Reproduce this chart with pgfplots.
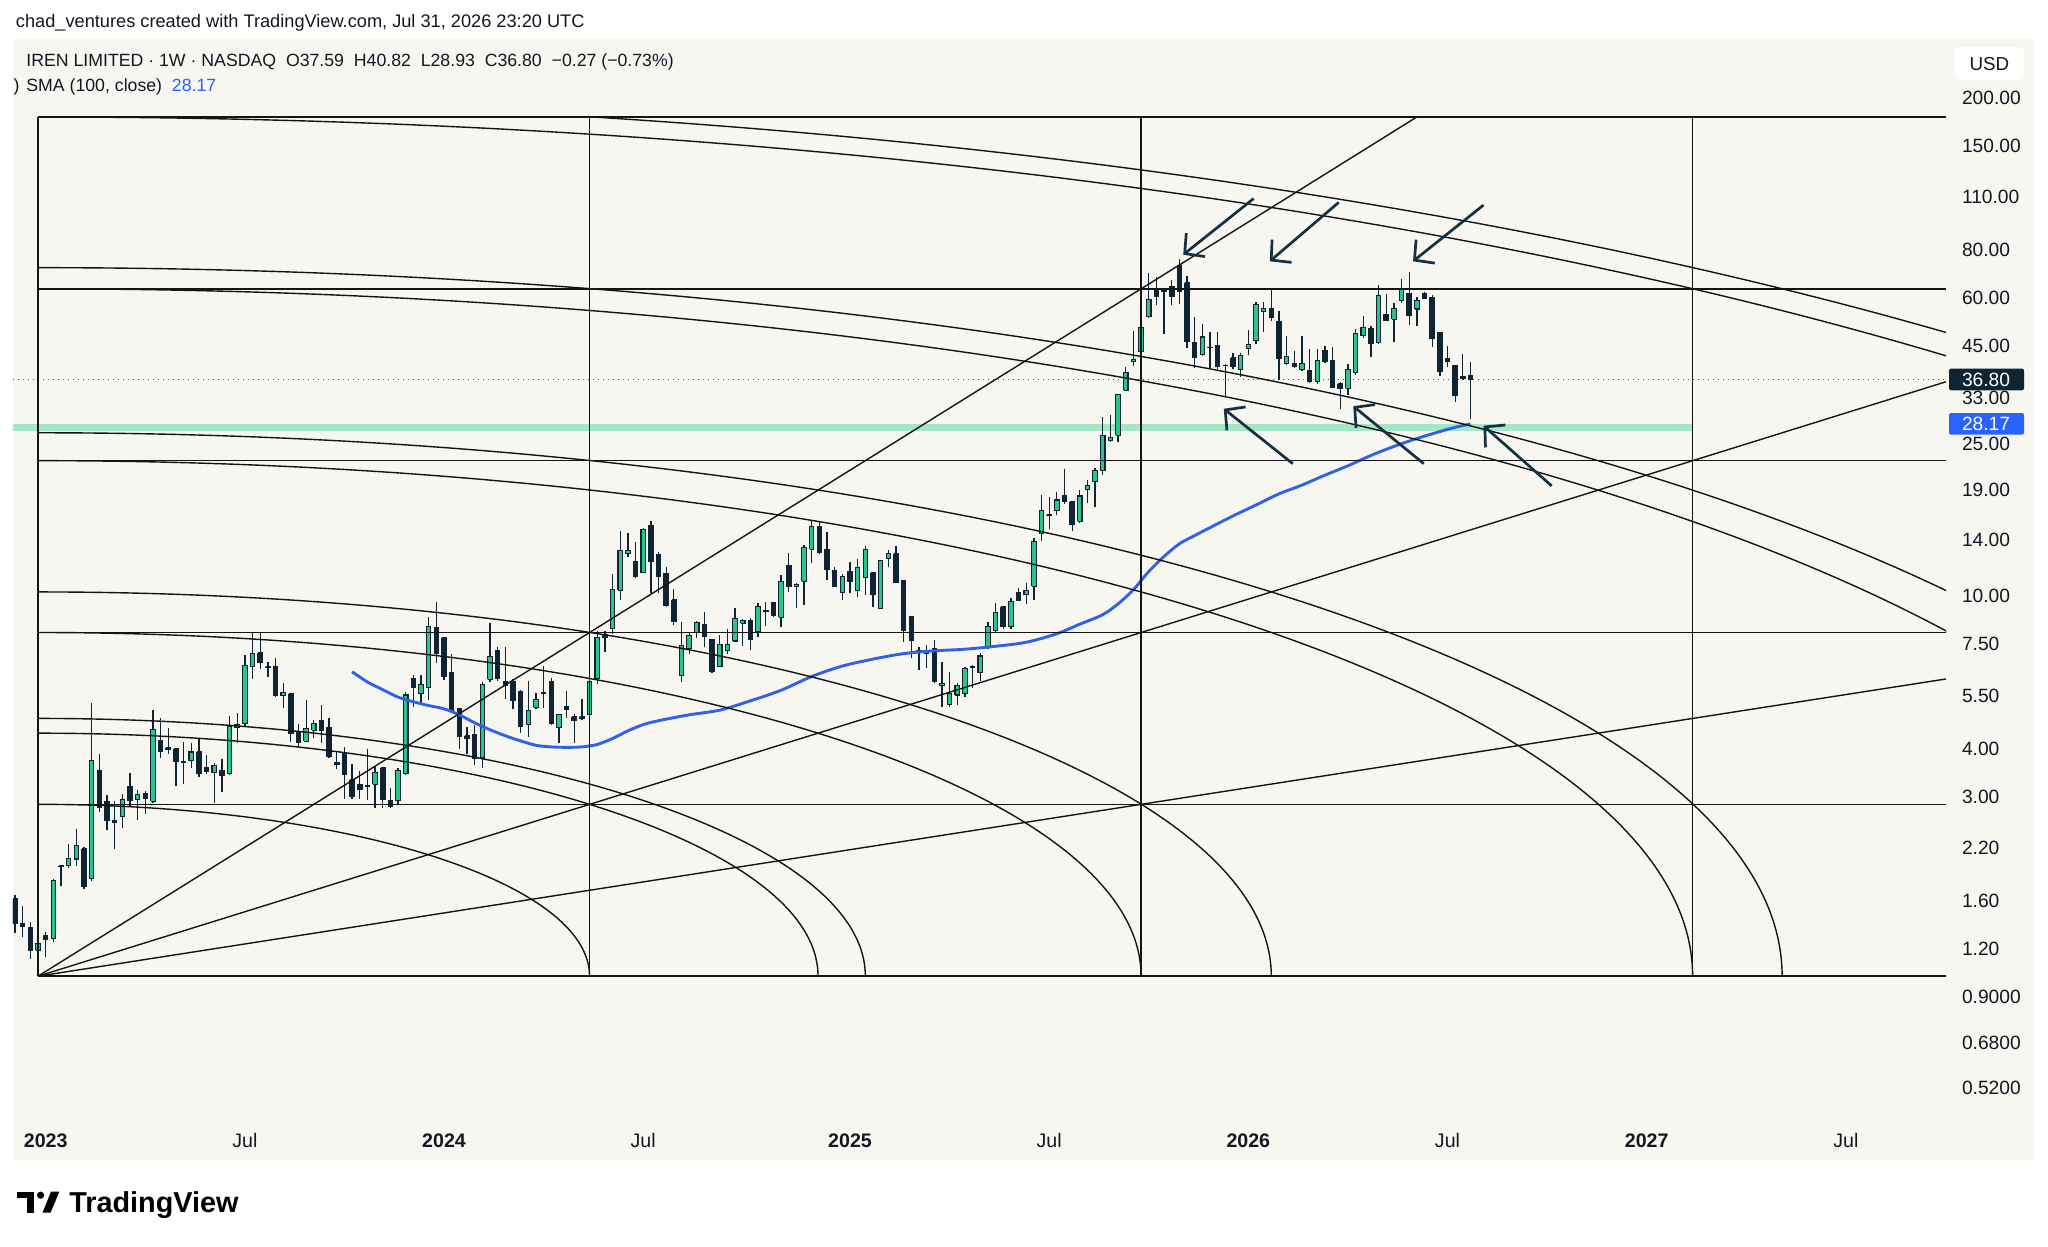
\documentclass[border=0pt]{standalone}
\usepackage{pgfplots}
\pgfplotsset{compat=1.18}
\usepackage{pgfplotstable}
\usepackage{fontspec}
\setmainfont{Liberation Sans}
\usetikzlibrary{arrows.meta}

\definecolor{panel}{HTML}{F8F6F1}
\definecolor{cgreen}{HTML}{2BC48A}
\definecolor{cdark}{HTML}{0E2432}
\definecolor{smablue}{HTML}{2F62E6}
\definecolor{tvblue}{HTML}{2962FF}
\definecolor{bandc}{HTML}{A6E6C8}
\definecolor{arrowc}{HTML}{15303F}
\definecolor{gannc}{HTML}{141414}
\definecolor{txt}{HTML}{131722}

\tikzset{
  wick/.style={draw=cdark, line width=0.65pt},
  cbody/.style={draw=cdark, line width=0.55pt},
  gann/.style={draw=gannc, line width=0.7pt},
  arr/.style={draw=arrowc, line width=1.35pt, -{Straight Barb[length=7pt,width=15pt]}},
}

\pgfplotstableread{
w O H L C
-4 1.62 1.66 1.32 1.40
-3 1.40 1.55 1.29 1.37
-2 1.36 1.41 1.13 1.19
-1 1.19 1.27 1.12 1.24
0 1.30 1.33 1.14 1.27
1 1.28 1.83 1.25 1.81
2 1.98 1.99 1.75 1.97
3 1.98 2.25 1.95 2.07
4 2.06 2.47 1.98 2.23
5 2.19 2.22 1.72 1.75
6 1.83 5.27 1.80 3.73
7 3.51 3.87 2.74 2.81
8 2.91 3.03 2.45 2.60
9 2.60 2.91 2.19 2.56
10 2.66 3.05 2.48 2.95
11 3.19 3.46 2.82 2.92
12 2.94 3.12 2.60 3.04
13 3.05 3.10 2.70 2.96
14 2.91 5.04 2.88 4.49
15 4.19 4.81 3.79 3.94
16 4.02 4.52 3.88 3.98
17 4.00 4.02 3.20 3.71
18 3.70 4.17 3.24 3.68
19 3.72 4.14 3.55 3.92
20 3.92 4.23 3.37 3.45
21 3.56 3.84 3.44 3.48
22 3.46 3.66 2.88 3.62
23 3.51 3.76 3.09 3.40
24 3.45 4.86 3.42 4.58
25 4.53 4.96 4.14 4.62
26 4.65 7.02 4.58 6.59
27 6.55 8.02 6.09 7.09
28 7.11 8.02 6.47 6.71
29 6.55 6.74 6.16 6.50
30 6.56 6.91 5.46 5.50
31 5.49 5.94 5.09 5.59
32 5.57 5.60 4.17 4.38
33 4.44 4.65 4.04 4.15
34 4.18 5.36 4.17 4.51
35 4.46 4.75 4.26 4.65
36 4.72 5.20 4.14 4.46
37 4.55 4.80 3.78 3.81
38 3.68 3.95 3.54 3.63
39 3.88 4.04 2.96 3.43
40 3.32 3.65 2.96 3.00
41 3.23 3.50 2.96 3.13
42 3.18 3.99 2.94 3.20
43 3.23 3.59 2.80 3.46
44 3.57 3.59 2.80 2.95
45 2.93 3.15 2.79 2.83
46 2.92 3.55 2.86 3.50
47 3.44 5.63 3.42 5.52
48 6.10 6.22 5.13 5.78
49 5.57 6.22 5.23 5.87
50 5.76 8.81 5.37 8.32
51 8.29 9.67 6.68 7.09
52 7.80 7.80 6.03 6.16
53 6.31 7.06 4.95 5.04
54 5.09 5.09 4.00 4.30
55 4.32 4.56 3.88 4.25
56 4.34 4.60 3.63 3.78
57 3.78 5.98 3.56 5.88
58 6.06 8.53 5.96 6.97
59 7.23 7.35 6.00 6.09
60 6.00 7.35 5.40 5.86
61 5.99 6.07 5.07 5.33
62 5.62 5.70 4.38 4.56
63 4.62 6.00 4.30 5.02
64 5.13 5.60 5.06 5.36
65 5.60 6.57 5.12 5.58
66 6.00 6.10 4.60 4.65
67 4.54 4.93 4.14 4.91
68 5.15 5.64 4.82 5.05
69 4.85 4.93 4.13 4.73
70 4.85 5.39 4.75 4.80
71 4.90 6.02 4.87 6.00
72 6.09 8.12 5.90 7.81
73 7.94 8.10 7.15 7.80
74 8.23 11.40 7.99 10.43
75 10.37 14.82 9.77 13.19
76 12.90 14.64 12.67 13.19
77 12.33 13.87 11.15 11.26
78 11.50 15.10 11.47 14.94
79 15.33 15.67 10.20 12.30
80 12.85 13.06 10.17 11.28
81 11.47 11.94 9.39 9.43
82 9.77 10.42 8.40 8.57
83 6.22 8.57 5.98 7.45
84 7.29 8.00 7.07 7.91
85 8.03 8.62 7.76 8.54
86 8.45 9.10 7.36 7.84
87 7.72 7.72 6.29 6.36
88 6.55 7.92 6.52 7.47
89 7.23 8.23 7.06 7.47
90 7.64 9.34 7.60 8.75
91 8.49 8.70 7.42 8.62
92 8.66 8.75 7.23 7.70
93 8.07 9.57 7.84 9.41
94 9.12 9.67 8.35 9.16
95 9.61 9.67 8.80 8.93
96 8.80 11.35 8.31 10.90
97 12.05 12.98 10.27 10.60
98 10.60 10.80 9.29 10.70
99 10.95 13.60 9.48 13.40
100 13.25 15.80 12.20 15.24
101 15.24 15.60 12.90 12.97
102 13.25 14.70 11.00 11.75
103 11.70 11.94 10.60 10.62
104 10.20 11.40 9.77 11.23
105 11.60 12.30 10.20 10.90
106 10.33 12.50 9.97 11.86
107 11.20 13.50 10.08 13.25
108 11.50 11.58 9.38 10.13
109 9.29 12.45 9.24 12.37
110 12.55 13.23 11.94 12.93
111 12.90 13.55 10.80 10.84
112 10.98 10.98 7.60 8.15
113 8.87 8.87 6.88 7.68
114 7.23 7.35 6.42 7.21
115 7.20 7.44 6.48 7.07
116 7.32 7.68 5.94 5.98
117 5.84 6.74 5.14 5.90
118 5.20 6.35 5.13 5.57
119 5.52 5.92 5.20 5.83
120 5.57 6.54 5.46 6.48
121 6.50 6.60 5.76 6.55
122 6.31 7.09 6.00 6.98
123 7.38 8.58 7.27 8.32
124 8.15 9.58 8.07 9.05
125 9.38 9.45 8.23 8.32
126 8.32 9.90 8.23 9.67
127 10.20 10.48 9.70 9.75
128 10.08 10.80 9.55 10.36
129 10.62 14.20 9.75 13.87
130 14.58 18.37 13.95 16.71
131 16.30 18.10 15.00 16.25
132 16.71 18.74 16.28 17.83
133 18.26 21.43 17.40 17.65
134 17.65 17.65 14.77 15.38
135 15.69 18.93 15.50 18.26
136 18.99 20.10 17.53 19.50
137 19.90 21.56 17.12 21.26
138 21.26 29.40 20.71 26.34
139 25.46 29.80 25.30 26.00
140 26.34 33.80 25.30 33.64
141 34.52 39.73 34.40 38.32
142 41.00 49.20 39.80 41.60
143 43.50 50.80 42.80 50.30
144 53.70 69.90 53.20 59.50
145 63.20 68.30 57.50 60.60
146 63.00 63.50 48.30 62.60
147 64.50 66.90 57.50 60.60
148 72.80 76.00 58.00 62.60
149 65.90 68.50 44.40 46.20
150 46.00 53.70 39.50 41.90
151 42.80 51.40 42.30 47.50
152 44.70 48.90 39.50 44.60
153 45.00 48.90 39.30 39.70
154 40.00 40.50 33.30 40.10
155 41.90 43.20 39.10 39.90
156 39.10 43.20 37.40 42.40
157 44.40 49.50 42.70 45.50
158 46.40 58.80 45.50 57.60
159 55.30 58.60 48.90 56.50
160 56.30 63.50 52.20 53.50
161 52.20 55.70 36.60 41.80
162 40.50 47.80 40.10 42.20
163 40.60 43.70 39.50 39.70
164 39.00 47.80 38.70 40.60
165 38.80 44.20 36.10 36.40
166 36.30 44.20 35.90 41.30
167 43.90 44.90 40.60 40.90
168 41.30 44.60 34.90 35.10
169 35.80 36.20 30.80 34.90
170 34.90 40.50 33.50 39.00
171 38.30 49.90 37.80 48.50
172 47.90 54.00 47.30 50.30
173 50.00 50.70 42.00 45.60
174 45.90 65.10 45.60 60.90
175 54.50 61.60 52.20 52.60
176 52.90 58.30 46.00 56.40
177 59.30 67.20 58.30 63.30
178 61.80 70.20 51.10 54.10
179 56.20 60.40 50.80 59.20
180 61.80 62.40 59.70 60.00
181 60.40 61.30 44.80 47.10
182 48.90 48.90 37.50 38.60
183 41.80 45.00 39.70 41.10
184 40.10 40.10 32.10 33.50
185 37.50 43.00 36.60 37.07
186 37.59 40.82 28.93 36.80
}\ohlc

\pgfplotstableread{
w v
40 6.35
42 5.97
44 5.70
46 5.45
48 5.30
50 5.18
52 5.08
54 4.90
56 4.67
58 4.48
60 4.32
62 4.19
64 4.08
66 4.04
68 4.03
70 4.04
72 4.10
74 4.25
76 4.45
78 4.62
80 4.73
84 4.90
88 5.04
92 5.33
96 5.68
100 6.17
104 6.57
108 6.85
112 7.08
116 7.20
120 7.27
124 7.40
128 7.58
132 7.98
135 8.45
138 8.95
140 9.55
142 10.4
144 11.6
146 12.7
148 13.7
150 14.4
152 15.1
155 16.2
158 17.3
161 18.5
164 19.5
167 20.7
170 21.9
173 23.3
176 24.6
179 25.8
182 26.9
184 27.6
186 28.17
}\sma

\newcommand\mkcandle[1]{%
  \pgfplotstablegetelem{#1}{w}\of\ohlc \edef\cw{\pgfplotsretval}%
  \pgfplotstablegetelem{#1}{O}\of\ohlc \edef\co{\pgfplotsretval}%
  \pgfplotstablegetelem{#1}{H}\of\ohlc \edef\chh{\pgfplotsretval}%
  \pgfplotstablegetelem{#1}{L}\of\ohlc \edef\cll{\pgfplotsretval}%
  \pgfplotstablegetelem{#1}{C}\of\ohlc \edef\ccl{\pgfplotsretval}%
  \pgfmathsetmacro\wa{\cw-0.29}%
  \pgfmathsetmacro\wb{\cw+0.29}%
  \ifdim\ccl pt<\co pt\relax \def\bodycol{cdark}\else\def\bodycol{cgreen}\fi
  \edef\doit{%
    \noexpand\addplot[wick] coordinates {(\cw,\cll) (\cw,\chh)};
    \noexpand\addplot[cbody, fill=\bodycol] coordinates {(\wa,\co) (\wb,\co) (\wb,\ccl) (\wa,\ccl) (\wa,\co)};
  }\doit
}

\begin{document}
\begin{tikzpicture}
\path[use as bounding box] (0pt,0pt) rectangle (1024pt,623pt);
\fill[white] (0pt,0pt) rectangle (1024pt,623pt);
\fill[panel] (6.5pt,43pt) rectangle (1017pt,603.5pt);
\begin{axis}[
  at={(6.5pt,63pt)}, anchor=south west,
  scale only axis, width=966.5pt, height=540.5pt,
  xmin=-4.27, xmax=248.08, ymin=0.4288, ymax=285,
  ymode=log, enlargelimits=false,
  axis line style={draw=none},
  major tick length=0pt,
  ytick={200,150,110,80,60,45,33,25,19,14,10,7.5,5.5,4,3,2.2,1.6,1.2,0.9,0.68,0.52},
  yticklabels={200.00,150.00,110.00,80.00,60.00,45.00,33.00,25.00,19.00,14.00,10.00,7.50,5.50,4.00,3.00,2.20,1.60,1.20,0.9000,0.6800,0.5200},
  yticklabel pos=right,
  yticklabel style={anchor=west, inner sep=0pt, xshift=7.8pt, font=\fontsize{9.6}{10}\selectfont, text=txt},
  xtick={0,26,52,78,105,131,157,183,209,235},
  xticklabels={\textbf{2023},Jul,\textbf{2024},Jul,\textbf{2025},Jul,\textbf{2026},Jul,\textbf{2027},Jul},
  xticklabel style={anchor=base, inner sep=0pt, yshift=-13.5pt, font=\fontsize{9.8}{10}\selectfont, text=txt},
]
% support band and last close line
\addplot[bandc, line width=3.3pt] coordinates {(-4.27,27.6) (215,27.6)};
\addplot[black!70, line width=0.5pt, dash pattern=on 0.7pt off 1.8pt] coordinates {(-4.27,36.8) (248.08,36.8)};

% candles
\pgfplotsinvokeforeach{0,...,190}{\mkcandle{#1}}

% SMA 100
\addplot[smablue, line width=1.45pt, smooth, tension=0.5] table[x=w, y=v] {\sma};

% Gann box: horizontals and verticals
\addplot[gann] coordinates {(-1,1.018) (248.08,1.018)};
\addplot[gann] coordinates {(-1,2.8606) (248.08,2.8606)};
\addplot[gann] coordinates {(-1,8.0382) (248.08,8.0382)};
\addplot[gann] coordinates {(-1,22.587) (248.08,22.587)};
\addplot[gann] coordinates {(-1,63.47) (248.08,63.47)};
\addplot[gann] coordinates {(-1,178.35) (248.08,178.35)};
\addplot[gann] coordinates {(-1,1.018) (-1,178.35)};
\addplot[gann] coordinates {(71,1.018) (71,178.35)};
\addplot[gann] coordinates {(143,1.018) (143,178.35)};
\addplot[gann] coordinates {(215,1.018) (215,178.35)};
% fan lines
\addplot[gann] coordinates {(-1,1.018) (179,178.35)};
\addplot[gann] coordinates {(-1,1.018) (248.08,36.30)};
\addplot[gann] coordinates {(-1,1.018) (248.08,6.079)};
% arcs
\begin{scope}
\clip (axis cs:-1,1.018) rectangle (axis cs:248.08,178.35);
\pgfplotsinvokeforeach{1,1.41421,1.5,2,2.23607,3,3.16228,4,4.12311,5,5.09902}{
  \draw[gann] (axis cs:-1,1.018) ++(#1*275.76pt,0pt) arc[start angle=0,end angle=90,x radius=#1*275.76pt,y radius=#1*85.92pt];
}
\end{scope}
% arrows
\draw[arr] (axis cs:157.7,109.2) -- (axis cs:148.5,77.9);
\draw[arr] (axis cs:168.8,106.7) -- (axis cs:159.8,74.9);
\draw[arr] (axis cs:187.7,105.0) -- (axis cs:178.5,74.9);
\draw[arr] (axis cs:162.8,22.18) -- (axis cs:153.8,30.85);
\draw[arr] (axis cs:179.9,22.18) -- (axis cs:170.7,31.34);
\draw[arr] (axis cs:196.6,19.41) -- (axis cs:187.7,27.86);

\coordinate (p368) at (axis cs:248.08,36.8);
\coordinate (p2817) at (axis cs:248.08,28.17);
\end{axis}

% price labels
\fill[cdark, rounded corners=1pt] ([xshift=1.5pt,yshift=-5.4pt]p368) rectangle ([xshift=39pt,yshift=5.4pt]p368);
\node[anchor=west, inner sep=0pt, text=white, font=\fontsize{9.6}{10}\selectfont] at ([xshift=7.8pt]p368) {36.80};
\fill[tvblue, rounded corners=1pt] ([xshift=1.5pt,yshift=-5.4pt]p2817) rectangle ([xshift=39pt,yshift=5.4pt]p2817);
\node[anchor=west, inner sep=0pt, text=white, font=\fontsize{9.6}{10}\selectfont] at ([xshift=7.8pt]p2817) {28.17};
% USD box
\fill[white, rounded corners=2.5pt] (977.5pt,583pt) rectangle (1012pt,599.5pt);
\node[inner sep=0pt, text=txt, font=\fontsize{9.4}{10}\selectfont] at (994.7pt,591.2pt) {USD};

% header and legend
\node[anchor=base west, inner sep=0pt, text=txt, font=\fontsize{9.1}{10}\selectfont] at (7.8pt,609.3pt) {chad\_ventures created with TradingView.com, Jul 31, 2026 23:20 UTC};
\node[anchor=base west, inner sep=0pt, text=txt, font=\fontsize{8.85}{10}\selectfont] at (13pt,589.7pt) {IREN LIMITED · 1W · NASDAQ\ \ O37.59\ \ H40.82\ \ L28.93\ \ C36.80\ \ −0.27 (−0.73\%)};
\node[anchor=base west, inner sep=0pt, text=txt, font=\fontsize{8.85}{10}\selectfont] at (6.6pt,577.3pt) {)};
\node[anchor=base west, inner sep=0pt, text=txt, font=\fontsize{8.85}{10}\selectfont] at (13pt,577.3pt) {SMA (100, close)\ \ \textcolor{tvblue}{28.17}};

% TradingView logo
\fill[black] (8.3pt,23.9pt) rectangle (17.2pt,27.2pt);
\fill[black] (13.3pt,16.7pt) rectangle (17.2pt,27.2pt);
\fill[black] (20.3pt,25.4pt) circle (1.8pt);
\fill[black] (21.3pt,16.7pt) -- (25.3pt,16.7pt) -- (29.7pt,27.2pt) -- (25.5pt,27.2pt) -- cycle;
\node[anchor=base west, inner sep=0pt, text=black] at (34.5pt,16.7pt) {\fontsize{14.4}{16}\selectfont\bfseries TradingView};
\end{tikzpicture}
\end{document}
